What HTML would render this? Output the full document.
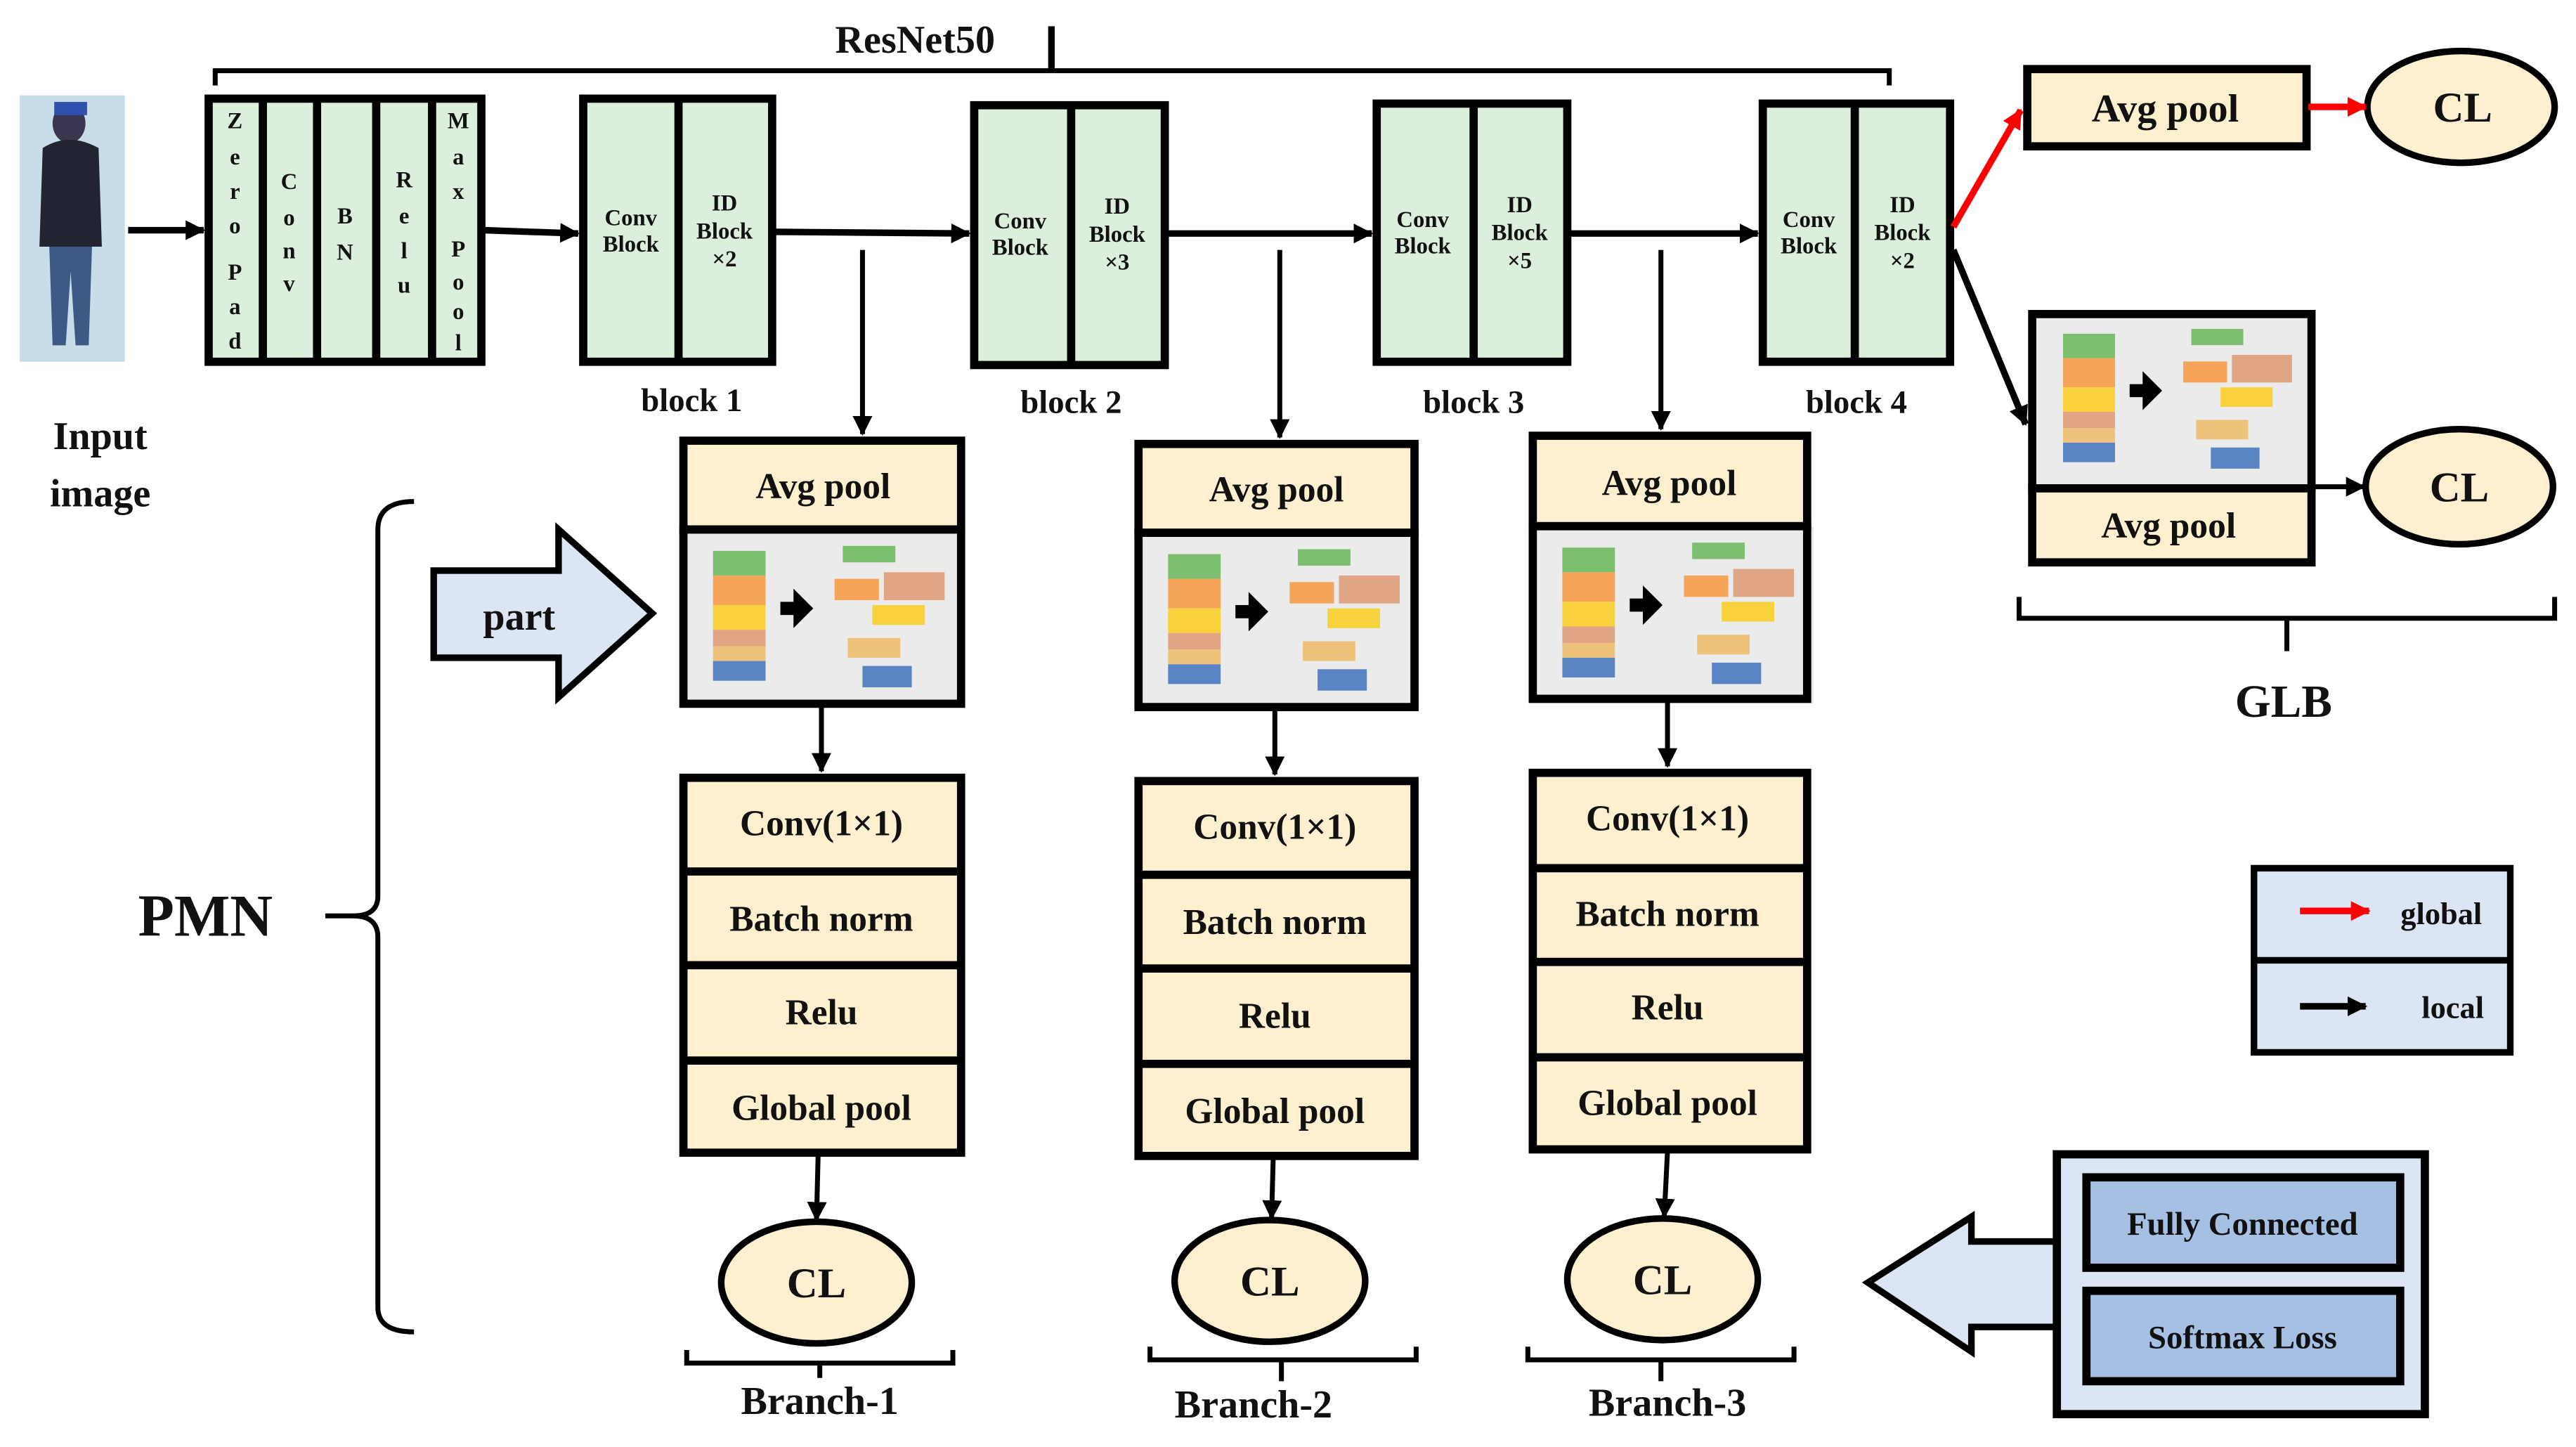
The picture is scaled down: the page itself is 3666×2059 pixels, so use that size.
<!DOCTYPE html>
<html><head><meta charset="utf-8"><style>
html,body{margin:0;padding:0;background:#fff;}
svg{display:block;}
text{font-family:"Liberation Serif",serif;font-weight:bold;fill:#111;}
</style></head><body>
<svg width="3666" height="2059" viewBox="0 0 1568 880" preserveAspectRatio="none" xmlns="http://www.w3.org/2000/svg">
<defs>
<marker id="ahb" markerWidth="12" markerHeight="12" refX="11" refY="6" orient="auto" markerUnits="userSpaceOnUse"><path d="M0,0 L12,6 L0,12 z" fill="#000"/></marker>
<marker id="ahr" markerWidth="12" markerHeight="12" refX="11" refY="6" orient="auto" markerUnits="userSpaceOnUse"><path d="M0,0 L12,6 L0,12 z" fill="#f00"/></marker>
<symbol id="panel" viewBox="0 0 173 108" width="173" height="108">
<rect x="0" y="0" width="173" height="108" fill="#ebebeb"/>
<rect x="20" y="13" width="32" height="15" fill="#7cbf6e"/>
<rect x="20" y="28" width="32" height="18" fill="#f5a45a"/>
<rect x="20" y="46" width="32" height="15" fill="#f7d23c"/>
<rect x="20" y="61" width="32" height="10" fill="#e0a585"/>
<rect x="20" y="71" width="32" height="9" fill="#eec27a"/>
<rect x="20" y="80" width="32" height="12" fill="#5b84c4"/>
<path d="M61,44 h8 v-8 l12,12 l-12,12 v-8 h-8 z" fill="#000"/>
<rect x="99" y="10" width="32" height="10" fill="#7cbf6e"/>
<rect x="94" y="30" width="27" height="13" fill="#f5a45a"/>
<rect x="124" y="26" width="37" height="17" fill="#e0a585"/>
<rect x="117" y="46" width="32" height="12" fill="#f7d23c"/>
<rect x="102" y="66" width="32" height="12" fill="#eec27a"/>
<rect x="111" y="83" width="30" height="13" fill="#5b84c4"/>
</symbol>
</defs>

<rect x="12" y="58" width="64" height="162" fill="#c9dcea"/>
<ellipse cx="42" cy="75" rx="10" ry="12" fill="#3a3550"/>
<rect x="33" y="62" width="20" height="8" fill="#3050b0"/>
<path d="M26,90 Q42,80 60,90 L62,150 L24,150 z" fill="#222430"/>
<path d="M30,150 L56,150 L54,210 L46,210 L43,165 L40,210 L32,210 z" fill="#3d5a86"/>
<text x="61" y="273" font-size="24" text-anchor="middle">Input</text>
<text x="61" y="308" font-size="24" text-anchor="middle">image</text>
<line x1="78" y1="140" x2="124" y2="140" stroke="#000" stroke-width="4" marker-end="url(#ahb)"/>

<path d="M131,52 V43 H1150 V52" fill="none" stroke="#000" stroke-width="3"/>
<line x1="640" y1="43" x2="640" y2="16" stroke="#000" stroke-width="4"/>
<text x="557" y="32" font-size="24" text-anchor="middle">ResNet50</text>

<g stroke="#000" stroke-width="5" fill="#dcefdc">
<rect x="127" y="60" width="166" height="160"/>
<line x1="160" y1="60" x2="160" y2="220"/><line x1="193" y1="60" x2="193" y2="222"/><line x1="229" y1="60" x2="229" y2="222"/><line x1="263" y1="60" x2="263" y2="220"/>
</g>
<g font-size="14" text-anchor="middle">
<text x="143" y="78">Z</text><text x="143" y="100">e</text><text x="143" y="121">r</text><text x="143" y="142">o</text><text x="143" y="170">P</text><text x="143" y="191">a</text><text x="143" y="212">d</text>
<text x="176" y="115">C</text><text x="176" y="137">o</text><text x="176" y="157">n</text><text x="176" y="177">v</text>
<text x="210" y="136">B</text><text x="210" y="158">N</text>
<text x="246" y="114">R</text><text x="246" y="136">e</text><text x="246" y="157">l</text><text x="246" y="178">u</text>
<text x="279" y="78">M</text><text x="279" y="100">a</text><text x="279" y="121">x</text><text x="279" y="156">P</text><text x="279" y="176">o</text><text x="279" y="194">o</text><text x="279" y="213">l</text>
</g>
<line x1="295" y1="140" x2="352" y2="142" stroke="#000" stroke-width="4" marker-end="url(#ahb)"/>

<g stroke="#000" stroke-width="5" fill="#dcefdc">
<rect x="355" y="60" width="115" height="160"/><line x1="413" y1="60" x2="413" y2="220"/>
<rect x="593" y="64" width="116" height="158"/><line x1="652" y1="64" x2="652" y2="222"/>
<rect x="838" y="63" width="116" height="157"/><line x1="897" y1="63" x2="897" y2="220"/>
<rect x="1073" y="63" width="114" height="157"/><line x1="1129" y1="63" x2="1129" y2="220"/>
</g>
<g font-size="14" text-anchor="middle">
<text x="384" y="137">Conv</text><text x="384" y="153">Block</text>
<text x="441" y="128">ID</text><text x="441" y="145">Block</text><text x="441" y="162">×2</text>
<text x="621" y="139">Conv</text><text x="621" y="155">Block</text>
<text x="680" y="130">ID</text><text x="680" y="147">Block</text><text x="680" y="164">×3</text>
<text x="866" y="138">Conv</text><text x="866" y="154">Block</text>
<text x="925" y="129">ID</text><text x="925" y="146">Block</text><text x="925" y="163">×5</text>
<text x="1101" y="138">Conv</text><text x="1101" y="154">Block</text>
<text x="1158" y="129">ID</text><text x="1158" y="146">Block</text><text x="1158" y="163">×2</text>
</g>
<g font-size="20" text-anchor="middle">
<text x="421" y="250">block 1</text><text x="652" y="251">block 2</text><text x="897" y="251">block 3</text><text x="1130" y="251">block 4</text>
</g>
<g stroke="#000" stroke-width="4">
<line x1="472" y1="141" x2="590" y2="142" marker-end="url(#ahb)"/>
<line x1="711" y1="142" x2="835" y2="142" marker-end="url(#ahb)"/>
<line x1="956" y1="142" x2="1070" y2="142" marker-end="url(#ahb)"/>
</g>
<g stroke="#000" stroke-width="3">
<line x1="525" y1="152" x2="525" y2="264" marker-end="url(#ahb)"/>
<line x1="779" y1="152" x2="779" y2="266" marker-end="url(#ahb)"/>
<line x1="1011" y1="152" x2="1011" y2="261" marker-end="url(#ahb)"/>
</g>

<use href="#panel" x="414" y="322"/>
<use href="#panel" x="691" y="324"/>
<use href="#panel" x="931" y="320"/>
<g stroke="#000" stroke-width="5" fill="#fdf0cf">
<rect x="416" y="268" width="169" height="54"/><rect x="416" y="322" width="169" height="106" fill="none"/>
<rect x="693" y="270" width="168" height="54"/><rect x="693" y="324" width="168" height="106" fill="none"/>
<rect x="933" y="265" width="167" height="55"/><rect x="933" y="320" width="167" height="105" fill="none"/>
</g>
<g font-size="22" text-anchor="middle">
<text x="501" y="303">Avg pool</text><text x="777" y="305">Avg pool</text><text x="1016" y="301">Avg pool</text>
</g>
<g stroke="#000" stroke-width="3">
<line x1="500" y1="430" x2="500" y2="469" marker-end="url(#ahb)"/>
<line x1="776" y1="432" x2="776" y2="471" marker-end="url(#ahb)"/>
<line x1="1015" y1="427" x2="1015" y2="466" marker-end="url(#ahb)"/>
</g>

<g stroke="#000" stroke-width="5" fill="#fdf0cf">
<rect x="416" y="473" width="169" height="228"/><line x1="416" y1="530" x2="585" y2="530"/><line x1="416" y1="587" x2="585" y2="587"/><line x1="416" y1="645" x2="585" y2="645"/>
<rect x="693" y="475" width="168" height="228"/><line x1="693" y1="532" x2="861" y2="532"/><line x1="693" y1="589" x2="861" y2="589"/><line x1="693" y1="647" x2="861" y2="647"/>
<rect x="933" y="470" width="167" height="229"/><line x1="933" y1="528" x2="1100" y2="528"/><line x1="933" y1="585" x2="1100" y2="585"/><line x1="933" y1="643" x2="1100" y2="643"/>
</g>
<g font-size="22" text-anchor="middle">
<text x="500" y="508">Conv(1×1)</text><text x="500" y="566">Batch norm</text><text x="500" y="623">Relu</text><text x="500" y="681">Global pool</text>
<text x="776" y="510">Conv(1×1)</text><text x="776" y="568">Batch norm</text><text x="776" y="625">Relu</text><text x="776" y="683">Global pool</text>
<text x="1015" y="505">Conv(1×1)</text><text x="1015" y="563">Batch norm</text><text x="1015" y="620">Relu</text><text x="1015" y="678">Global pool</text>
</g>
<g stroke="#000" stroke-width="3">
<line x1="498" y1="702" x2="497" y2="742" marker-end="url(#ahb)"/>
<line x1="775" y1="704" x2="774" y2="741" marker-end="url(#ahb)"/>
<line x1="1015" y1="700" x2="1013" y2="740" marker-end="url(#ahb)"/>
</g>
<g stroke="#000" stroke-width="4" fill="#fdf0cf">
<ellipse cx="497" cy="780" rx="58" ry="37"/><ellipse cx="773" cy="779" rx="58" ry="37"/><ellipse cx="1012" cy="778" rx="58" ry="37"/>
<ellipse cx="1498" cy="65" rx="57" ry="34"/><ellipse cx="1497" cy="296" rx="57" ry="35"/>
</g>
<g font-size="26" text-anchor="middle">
<text x="497" y="789">CL</text><text x="773" y="788">CL</text><text x="1012" y="787">CL</text>
<text x="1499" y="74">CL</text><text x="1497" y="305">CL</text>
</g>
<g fill="none" stroke="#000" stroke-width="3">
<path d="M418,821 V829 H580 V821"/><line x1="499" y1="829" x2="499" y2="838"/>
<path d="M700,819 V827 H862 V819"/><line x1="780" y1="827" x2="780" y2="840"/>
<path d="M930,819 V827 H1092 V819"/><line x1="1011" y1="827" x2="1011" y2="840"/>
</g>
<g font-size="24" text-anchor="middle">
<text x="499" y="860">Branch-1</text><text x="763" y="862">Branch-2</text><text x="1015" y="861">Branch-3</text>
</g>

<path d="M252,305 Q230,305 230,322 V545 Q230,557 215,557 Q230,557 230,570 V795 Q230,810 252,810" fill="none" stroke="#000" stroke-width="3"/>
<line x1="198" y1="557" x2="218" y2="557" stroke="#000" stroke-width="3"/>
<text x="125" y="569" font-size="36" text-anchor="middle">PMN</text>
<path d="M264,347 H340 V322 L397,373 L340,424 V400 H264 z" fill="#dbe5f3" stroke="#000" stroke-width="4"/>
<text x="316" y="383" font-size="24" text-anchor="middle">part</text>

<line x1="1189" y1="138" x2="1230" y2="67" stroke="#f00" stroke-width="4" marker-end="url(#ahr)"/>
<rect x="1234" y="42" width="170" height="47" fill="#fdf0cf" stroke="#000" stroke-width="5"/>
<text x="1318" y="74" font-size="24" text-anchor="middle">Avg pool</text>
<line x1="1405" y1="65" x2="1440" y2="65" stroke="#f00" stroke-width="4" marker-end="url(#ahr)"/>
<line x1="1189" y1="152" x2="1233" y2="258" stroke="#000" stroke-width="4" marker-end="url(#ahb)"/>
<use href="#panel" x="1236" y="190" width="171" height="107"/>
<rect x="1237" y="191" width="170" height="106" fill="none" stroke="#000" stroke-width="5"/>
<rect x="1237" y="297" width="170" height="45" fill="#fdf0cf" stroke="#000" stroke-width="5"/>
<text x="1320" y="327" font-size="22" text-anchor="middle">Avg pool</text>
<line x1="1407" y1="296" x2="1439" y2="296" stroke="#000" stroke-width="3" marker-end="url(#ahb)"/>
<path d="M1229,363 V376 H1555 V363" fill="none" stroke="#000" stroke-width="3"/>
<line x1="1392" y1="376" x2="1392" y2="396" stroke="#000" stroke-width="3"/>
<text x="1390" y="436" font-size="28" text-anchor="middle">GLB</text>

<rect x="1372" y="528" width="156" height="112" fill="#dbe5f3" stroke="#000" stroke-width="4"/>
<line x1="1372" y1="584" x2="1528" y2="584" stroke="#000" stroke-width="4"/>
<line x1="1400" y1="554" x2="1442" y2="554" stroke="#f00" stroke-width="4" marker-end="url(#ahr)"/>
<text x="1486" y="562" font-size="19" text-anchor="middle">global</text>
<line x1="1400" y1="612" x2="1440" y2="612" stroke="#000" stroke-width="4" marker-end="url(#ahb)"/>
<text x="1493" y="619" font-size="19" text-anchor="middle">local</text>

<path d="M1252,755 H1200 V740 L1137,780 L1200,822 V807 H1252 z" fill="#dbe5f3" stroke="#000" stroke-width="4"/>
<rect x="1252" y="702" width="224" height="158" fill="#dbe5f3" stroke="#000" stroke-width="5"/>
<rect x="1270" y="716" width="191" height="55" fill="#a6c0e4" stroke="#000" stroke-width="5"/>
<rect x="1270" y="785" width="191" height="55" fill="#a6c0e4" stroke="#000" stroke-width="5"/>
<text x="1365" y="751" font-size="20" text-anchor="middle">Fully Connected</text>
<text x="1365" y="820" font-size="20" text-anchor="middle">Softmax Loss</text>
</svg>
</body></html>
